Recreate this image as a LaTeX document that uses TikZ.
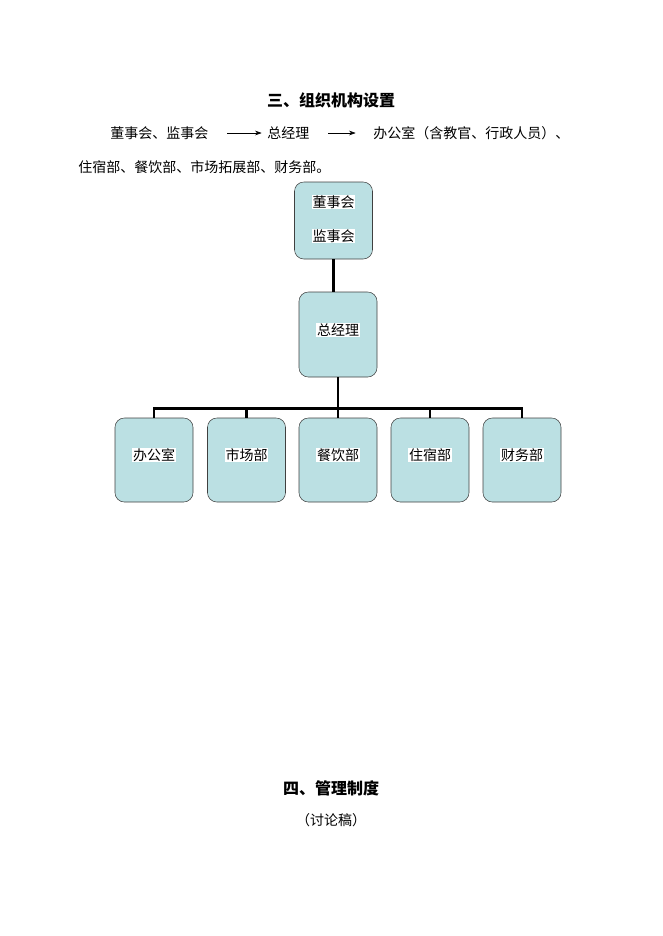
\documentclass[tikz,border=0pt]{standalone}
\usepackage{fontspec}
\setmainfont{Noto Sans CJK SC}
\usetikzlibrary{arrows.meta,positioning}
\definecolor{unitfill}{HTML}{BBE0E3}
\tikzset{
  unit/.style={draw=black!75, fill=unitfill, rounded corners=7, minimum width=58.5pt, inner sep=0pt},
  lbl/.style={fill=white, inner sep=0.6pt},
  link/.style={line width=2pt, black},
  txt/.style={font=\fontsize{10.5pt}{13pt}\selectfont, inner sep=0pt},
  head/.style={font=\fontsize{12pt}{14pt}\selectfont\bfseries, inner sep=0pt}
}
\begin{document}
\begin{tikzpicture}[x=0.75pt,y=-0.75pt]
\useasboundingbox (0,0) rectangle (662,936);
% title and text
\node[head] (title) at (331,100) {三、组织机构设置};
\node[txt, anchor=west] (board) at (110,133) {董事会、监事会};
\node[txt, anchor=west] (boss) at (267,133) {总经理};
\node[txt, anchor=west] (rest) at (373,133) {办公室（含教官、行政人员）、};
\draw[-{Stealth[length=5pt,width=3.5pt]}, thin] ([xshift=14]board.east) -- ([xshift=-4]boss.west);
\draw[-{Stealth[length=5pt,width=3.5pt]}, thin] ([xshift=14]boss.east) -- ([xshift=-13]rest.west);
\node[txt, anchor=west] (rest2) at (78,167) {住宿部、餐饮部、市场拓展部、财务部。};
% chart
\node[unit, minimum height=57.75pt] (top) at (333.5,220.5) {};
\node[txt, lbl] (top1) at (333.5,202) {董事会};
\node[txt, lbl] (top2) at (333.5,236) {监事会};
\node[unit, minimum height=63.75pt] (gm) at (338,334.5) {};
\node[txt, lbl] (gmtxt) at (338,330) {总经理};
\foreach \name/\cx/\t in {office/154/办公室, market/246.5/市场部, food/338/餐饮部, room/430/住宿部, money/522/财务部}{
  \node[unit, minimum height=63pt] (\name) at (\cx,460) {};
  \node[txt, lbl] (\name txt) at (\cx,455) {\t};
}
\draw[link] (top.south) -- (top.south |- gm.north);
\foreach \name in {office, market, food, room, money}
  \draw[link] (gm.south) -- ++(0,31) -| (\name.north);
% bottom heading
\node[head] (rules) at (331,788) {四、管理制度};
\node[txt] (draft) at (331,820) {（讨论稿）};
\end{tikzpicture}
\end{document}
